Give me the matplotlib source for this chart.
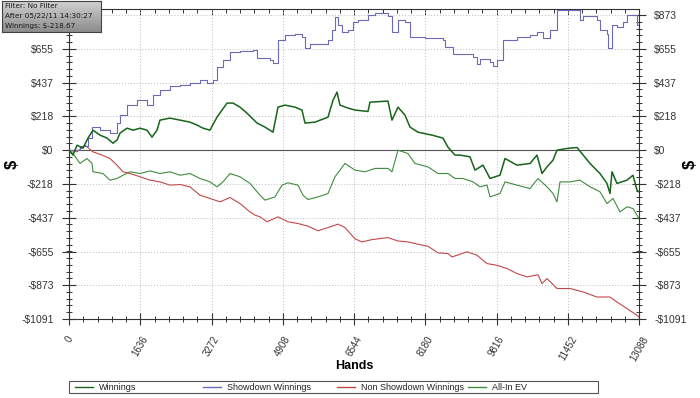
import numpy as np
import matplotlib
matplotlib.use("Agg")
import matplotlib.pyplot as plt
from matplotlib.ticker import FixedLocator, MultipleLocator
from matplotlib.lines import Line2D
from matplotlib.patches import Rectangle

plt.rcParams['font.family'] = ['Liberation Sans', 'DejaVu Sans']

# values (hands, dollars)
showdown_hands = [0, 253, 436, 528, 712, 941, 1102, 1171, 1332, 1561, 1791, 1929, 2089, 2319,
                  2549, 2778, 3008, 3169, 3306, 3398, 3536, 3697, 3926, 4225, 4317, 4615, 4684,
                  4799, 4960, 5189, 5350, 5419, 5534, 5947, 6039, 6108, 6177, 6268, 6406, 6521,
                  6636, 6865, 7026, 7324, 7416, 7554, 7715, 7830, 8174, 8587, 8633, 8817, 9276,
                  9368, 9437, 9667, 9735, 9827, 9965, 10286, 10585, 10746, 10884, 11044, 11205,
                  11664, 11733, 11802, 12123, 12192, 12353, 12376, 12468, 12582, 12720, 12812,
                  12950, 13042, 13088]
showdown = [0, 30, 80, 149, 129, 110, 175, 226, 291, 323, 291, 355, 388, 414,
            420, 433, 453, 433, 453, 537, 582, 634, 640, 647, 595, 582, 563,
            711, 744, 750, 730, 660, 686, 711, 776, 860, 808, 763, 776, 828,
            840, 873, 886, 870, 763, 840, 828, 730, 724, 711, 666, 621, 601,
            556, 588, 569, 543, 582, 711, 731, 744, 763, 724, 776, 905,
            905, 841, 866, 841, 776, 750, 660, 808, 795, 828, 873,
            873, 808, 828]

winnings_hands = [0, 92, 184, 321, 436, 551, 712, 872, 1010, 1102, 1171, 1332, 1469, 1630,
                  1791, 1906, 2021, 2089, 2319, 2549, 2778, 2939, 3077, 3237, 3398, 3628, 3766,
                  3926, 4087, 4317, 4500, 4684, 4799, 4960, 5189, 5350, 5419, 5648, 5947, 6062,
                  6154, 6222, 6406, 6567, 6865, 6911, 7324, 7416, 7554, 7715, 7830, 8013, 8335,
                  8587, 8702, 8863, 8978, 9207, 9322, 9506, 9667, 9896, 10011, 10286, 10585,
                  10746, 10861, 10975, 11113, 11205, 11435, 11664, 11779, 11963, 12192, 12353,
                  12422, 12468, 12582, 12812, 12950, 13042, 13088]
winnings = [0, -32, 32, 13, 78, 129, 97, 78, 45, 65, 110, 142, 129, 142,
            129, 84, 129, 194, 207, 194, 181, 162, 142, 129, 213, 304, 304,
            278, 239, 175, 149, 116, 278, 291, 278, 259, 175, 181, 213, 323,
            375, 291, 272, 259, 250, 310, 317, 194, 278, 226, 149, 116, 97,
            78, 19, -32, -32, -43, -129, -97, -183, -162, -54, -97, -86,
            -32, -151, -108, -65, 0, 11, 17, -22, -86, -151, -215,
            -280, -140, -215, -194, -162, -259, -270]

nonshow_hands = [0, 184, 367, 551, 758, 941, 1102, 1240, 1401, 1630, 1860, 2089, 2319, 2549,
                 2778, 3008, 3237, 3467, 3697, 3926, 4156, 4271, 4386, 4546, 4799, 5028, 5258,
                 5488, 5717, 5947, 6177, 6337, 6567, 6727, 6957, 7324, 7554, 7784, 8013, 8243,
                 8473, 8702, 8794, 9139, 9368, 9598, 9827, 10057, 10286, 10516, 10769, 10861,
                 10975, 11205, 11504, 11802, 12123, 12422, 12582, 12812, 13042, 13088]
nonshow = [0, -11, 32, -11, -32, -54, -97, -140, -151, -172, -194, -205, -226, -222,
           -237, -291, -312, -334, -306, -345, -399, -420, -431, -463, -431, -463, -474,
           -491, -521, -500, -478, -500, -573, -593, -578, -565, -587, -593, -608, -621,
           -664, -668, -690, -657, -679, -733, -744, -765, -797, -819, -805, -862,
           -830, -894, -894, -916, -949, -949, -981, -1024, -1067, -1078]

allin_hands = [0, 92, 253, 413, 528, 551, 781, 941, 1102, 1240, 1401, 1630, 1860, 2089,
               2319, 2549, 2778, 3008, 3237, 3398, 3536, 3697, 3926, 4156, 4386, 4500, 4730,
               4891, 5028, 5258, 5373, 5488, 5717, 5947, 6108, 6337, 6567, 6796, 7026, 7324,
               7416, 7554, 7784, 7944, 8243, 8473, 8702, 8863, 9047, 9276, 9437, 9598, 9667,
               9896, 10011, 10286, 10585, 10769, 10975, 11113, 11205, 11274, 11504, 11733,
               11963, 12192, 12353, 12491, 12651, 12812, 12950, 13088]
allin = [0, -22, -86, -54, -86, -140, -151, -194, -183, -162, -140, -151, -134, -151,
         -140, -162, -151, -183, -205, -237, -205, -151, -172, -215, -291, -323, -302,
         -226, -211, -226, -291, -319, -302, -280, -172, -86, -129, -140, -118, -118,
         -140, 0, -22, -86, -108, -151, -151, -183, -183, -205, -237, -226, -302,
         -280, -205, -226, -248, -183, -237, -280, -334, -205, -205, -194,
         -237, -269, -345, -312, -399, -366, -377, -442]

x_ticks = [0, 1636, 3272, 4908, 6544, 8180, 9816, 11452, 13088]
y_ticks = [-1091, -873, -655, -437, -218, 0, 218, 437, 655, 873]
y_labels = ['-$1091', '-$873', '-$655', '-$437', '-$218', '$0', '$218', '$437', '$655', '$873']

series_names = ['Winnings', 'Showdown Winnings', 'Non Showdown Winnings', 'All-In EV']
series_colors = ['#17641a', '#6a6ab8', '#c24848', '#3f8c3f']
info_lines = ['Filter: No Filter', 'After 05/22/11 14:30:27', 'Winnings: $-218.67']

fig = plt.figure(figsize=(7, 3.98), dpi=100)
W, H = 700.0, 398.0
ax = fig.add_axes([69 / W, 1 - 319 / H, 570 / W, 310 / H])

ax.plot(allin_hands, allin, color=series_colors[3], lw=0.8, zorder=3)
ax.plot(nonshow_hands, nonshow, color=series_colors[2], lw=0.8, zorder=3)
ax.plot(showdown_hands, showdown, color=series_colors[1], lw=0.8, drawstyle='steps-post', zorder=3)
ax.plot(winnings_hands, winnings, color=series_colors[0], lw=1.1, zorder=4)

ax.axhline(0, color='#555555', lw=0.8, zorder=2)
ax.set_xlim(0, 13088)
ax.set_ylim(-1091, 912)

ax.xaxis.set_major_locator(FixedLocator(x_ticks))
ax.xaxis.set_minor_locator(MultipleLocator(13088 / 40))
ax.yaxis.set_major_locator(FixedLocator(y_ticks))
ax.yaxis.set_minor_locator(FixedLocator(np.arange(-1091, 912, 1091 / 25)))
ax.set_yticklabels(y_labels)
ax.set_xticklabels([str(v) for v in x_ticks], rotation=60, ha='center', va='top')

ax.yaxis.set_ticks_position('both')
ax.tick_params(axis='y', which='major', direction='inout', length=10, width=0.8,
               labelsize=7.5, pad=6, labelright=True, colors='#333333')
ax.tick_params(axis='y', which='minor', direction='inout', length=5, width=0.7, colors='#333333')
ax.tick_params(axis='x', which='major', direction='inout', length=8, width=0.8,
               labelsize=7, pad=7, colors='#333333')
ax.tick_params(axis='x', which='minor', direction='inout', length=5, width=0.7, colors='#333333')

top = ax.secondary_xaxis('top')
top.xaxis.set_major_locator(FixedLocator(x_ticks))
top.xaxis.set_minor_locator(MultipleLocator(13088 / 40))
top.tick_params(which='major', direction='in', length=4, width=0.7, labeltop=False, colors='#333333')
top.tick_params(which='minor', direction='in', length=3, width=0.7, colors='#333333')
top.spines['top'].set_visible(False)

for s in ax.spines.values():
    s.set_color('#333333')
    s.set_linewidth(0.8)

ax.grid(True, which='major', color='#bdbdbd', lw=0.7, linestyle=(0, (1, 2)))

fig.text(354 / W, 1 - 366 / H, 'Hands', fontsize=9, fontweight='bold', ha='center', va='center')
fig.text(12 / W, 1 - 164 / H, '$', fontsize=12, fontweight='bold', rotation=90, ha='center', va='center')
fig.text(690 / W, 1 - 164 / H, '$', fontsize=12, fontweight='bold', rotation=90, ha='center', va='center')

# legend strip at the bottom
fig.add_artist(Rectangle((69 / W, 1 - 393 / H), 529 / W, 12 / H, transform=fig.transFigure,
                         facecolor='white', edgecolor='#555555', lw=0.8))
for name, col, x0 in zip(series_names, series_colors, [75, 203, 337, 468]):
    fig.add_artist(Line2D([x0 / W, (x0 + 18) / W], [1 - 387 / H] * 2, transform=fig.transFigure,
                          color=col, lw=1.0))
    fig.text((x0 + 24) / W, 1 - 387 / H, name, fontsize=6.5, ha='left', va='center', color='#222222')

# info box top left
info = fig.add_axes([2 / W, 1 - 32 / H, 99 / W, 31 / H])
grad = np.linspace(0.82, 0.55, 50).reshape(-1, 1)
info.imshow(grad, cmap='gray', vmin=0, vmax=1, aspect='auto', extent=[0, 1, 0, 1])
info.set_xticks([])
info.set_yticks([])
for s in info.spines.values():
    s.set_color('#444444')
    s.set_linewidth(0.8)
for i, line in enumerate(info_lines):
    fig.text(5 / W, 1 - (6 + 10 * i) / H, line, fontsize=5.2, family='DejaVu Sans', ha='left',
             va='center', color='#1a1a1a')

fig.savefig('out.png', dpi=100)
